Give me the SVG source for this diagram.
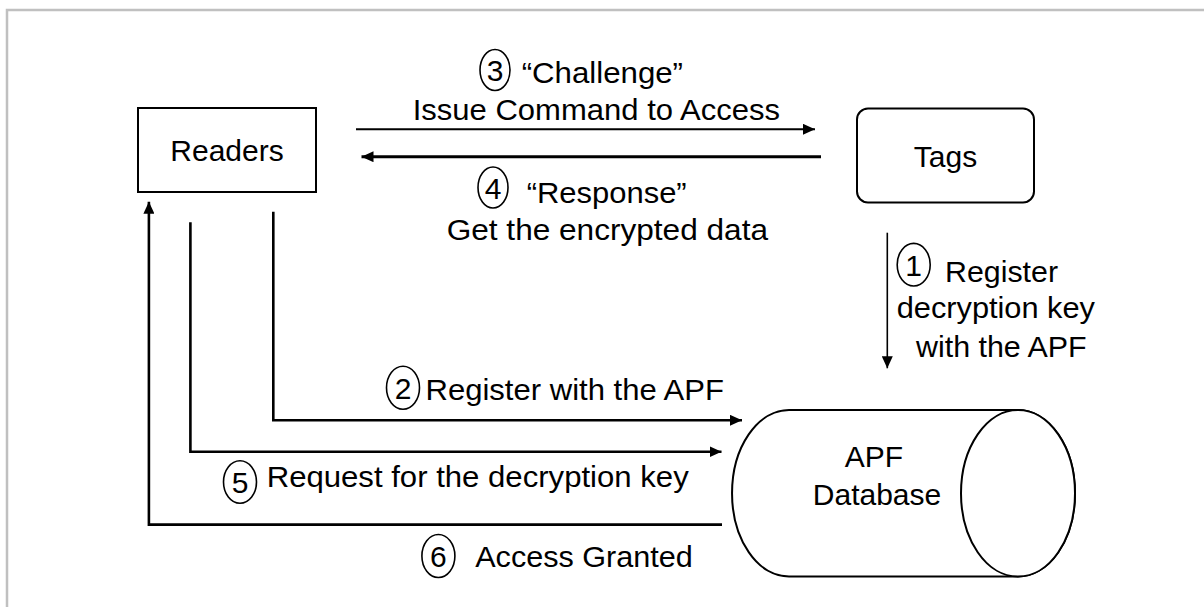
<svg xmlns="http://www.w3.org/2000/svg" width="1204" height="607" viewBox="0 0 1204 607">
<style>
text{font-family:"Liberation Sans",Arial,sans-serif;fill:#000}
.node{font-size:30px;text-anchor:middle}
.lbl{font-size:29px}
.num{font-size:30px;text-anchor:middle}
.box{fill:#fff;stroke:#000;stroke-width:2}
.circ{fill:none;stroke:#000;stroke-width:1.6}
.c{fill:none;stroke:#000;stroke-linejoin:miter}
</style>
<defs>
<marker id="ah" markerUnits="userSpaceOnUse" markerWidth="12" markerHeight="11" refX="12" refY="5.5" orient="auto" viewBox="0 0 12 11">
<path d="M0,0 L12,5.5 L0,11 Z" fill="#000"/>
</marker>
</defs>
<rect width="1204" height="607" fill="#fff"/>
<path d="M7,607 L7,10 L1204,10" fill="none" stroke="#c0c0c0" stroke-width="2.5"/>

<g id="readers">
<rect class="box" x="138" y="108" width="178" height="84"/>
<text class="node" x="227" y="161">Readers</text>
</g>
<g id="tags">
<rect class="box" x="857" y="108.5" width="177" height="94" rx="11" ry="11"/>
<text class="node" x="945.5" y="167">Tags</text>
</g>
<g id="apf-database">
<path class="box" d="M789,410 L1018,410 A57,83.3 0 0 1 1018,576.6 L789,576.6 A57,83.3 0 0 1 789,410 Z"/>
<ellipse class="box" cx="1018" cy="493.3" rx="57" ry="83.3"/>
<text class="node" x="874" y="466.5">APF</text>
<text class="node" x="877" y="505">Database</text>
</g>

<g id="connectors">
<path class="c" stroke-width="2" d="M356,129.3 L815,129.3" marker-end="url(#ah)"/>
<path class="c" stroke-width="3" d="M821,156.7 L361.5,156.7" marker-end="url(#ah)"/>
<path class="c" stroke-width="1.6" d="M887.3,232.7 L887.3,368.3" marker-end="url(#ah)"/>
<path class="c" stroke-width="2.6" d="M273.3,211.7 L273.3,420.3 L742,420.3" marker-end="url(#ah)"/>
<path class="c" stroke-width="2.6" d="M190.4,222.3 L190.4,451.7 L721.5,451.7" marker-end="url(#ah)"/>
<path class="c" stroke-width="2.6" d="M722,524.6 L148.9,524.6 L148.9,201.7" marker-end="url(#ah)"/>
</g>

<g id="labels">
<ellipse class="circ" cx="495" cy="70" rx="15" ry="20.5"/>
<text class="num" x="495" y="81">3</text>
<text class="lbl" x="521.7" y="83.3" textLength="161.3" lengthAdjust="spacingAndGlyphs">“Challenge”</text>
<text class="lbl" x="412.7" y="120" textLength="367.3" lengthAdjust="spacingAndGlyphs">Issue Command to Access</text>

<ellipse class="circ" cx="493" cy="187.5" rx="15" ry="20.5"/>
<text class="num" x="493" y="198.5">4</text>
<text class="lbl" x="526.7" y="203.3" textLength="160" lengthAdjust="spacingAndGlyphs">“Response”</text>
<text class="lbl" x="446.7" y="240" textLength="321.3" lengthAdjust="spacingAndGlyphs">Get the encrypted data</text>

<ellipse class="circ" cx="913.7" cy="264.7" rx="16.5" ry="21.3"/>
<text class="num" x="913.7" y="275.7">1</text>
<text class="lbl" x="945" y="281.7" textLength="113" lengthAdjust="spacingAndGlyphs">Register</text>
<text class="lbl" x="896.7" y="318" textLength="198.3" lengthAdjust="spacingAndGlyphs">decryption key</text>
<text class="lbl" x="916" y="356.7" textLength="170.7" lengthAdjust="spacingAndGlyphs">with the APF</text>

<ellipse class="circ" cx="403" cy="387.7" rx="16.5" ry="21.5"/>
<text class="num" x="403" y="398.7">2</text>
<text class="lbl" x="425.5" y="400" textLength="298.5" lengthAdjust="spacingAndGlyphs">Register with the APF</text>

<ellipse class="circ" cx="240" cy="482" rx="16.5" ry="21.3"/>
<text class="num" x="240" y="493">5</text>
<text class="lbl" x="266.7" y="486.7" textLength="422" lengthAdjust="spacingAndGlyphs">Request for the decryption key</text>

<ellipse class="circ" cx="438.4" cy="556" rx="16.5" ry="21.5"/>
<text class="num" x="438.4" y="567">6</text>
<text class="lbl" x="475.2" y="566.7" textLength="217.7" lengthAdjust="spacingAndGlyphs">Access Granted</text>
</g>
</svg>
